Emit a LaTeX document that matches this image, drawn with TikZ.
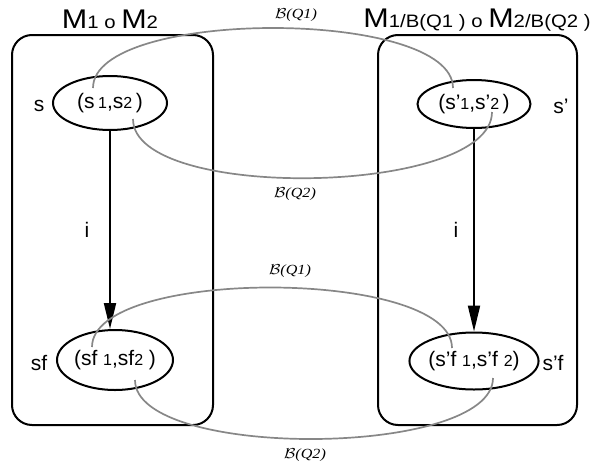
\documentclass[tikz,border=0pt]{standalone}
\usepackage{fontspec}
\setmainfont{Liberation Sans}
\newfontfamily\widefont[FakeStretch=1.13]{Liberation Sans}
\newfontfamily\seriffont{Liberation Serif}
\usetikzlibrary{shapes.geometric,arrows.meta}
\definecolor{curvegray}{RGB}{135,135,135}
\newcommand{\dg}[1]{{\fontsize{16}{16}\selectfont #1}}
\newcommand{\tsb}[1]{{\fontsize{18}{18}\selectfont #1}}
\newcommand{\bq}[1]{\scalebox{1.15}[1]{$\mathcal{B}${\seriffont\itshape (Q#1)}}}
\begin{document}
\begin{tikzpicture}[x=1pt,y=-1pt,
  box/.style={draw, line width=2pt, rounded corners=20pt, inner sep=0pt},
  state/.style={draw, ellipse, line width=2pt, inner sep=0pt, font=\fontsize{21}{21}\selectfont},
  lbl/.style={font=\fontsize{21}{21}\selectfont, inner sep=0pt},
  ttl/.style={font=\widefont\fontsize{27}{27}\selectfont, inner sep=0pt, anchor=base},
  bis/.style={draw=curvegray, line width=1.7pt},
  blbl/.style={font=\fontsize{14}{14}\selectfont, inner sep=0pt},
  trans/.style={-{Triangle[length=26pt,width=12pt]}, line width=2pt}]
\useasboundingbox (0,0) rectangle (594,466);
% boxes
\node[box, minimum width=201pt, minimum height=390pt] (L) at (112.5,230) {};
\node[box, minimum width=199pt, minimum height=390pt] (R) at (477.5,230) {};
% titles
\node[ttl] (tl) at (110,28) {M\tsb{1 o }M\tsb{2}};
\node[ttl] (tr) at (477,27) {M\tsb{1/B(Q1 ) o }M\tsb{2/B(Q2 )}};
% states
\node[state, minimum width=114pt, minimum height=54pt] (s) at (110,103) {(s\,\dg{1},s\dg{2}\,)};
\node[state, minimum width=113pt, minimum height=48pt] (sp) at (474,104) {(s'\dg{1},s'\dg{2}\,)};
\node[state, minimum width=116pt, minimum height=60pt] (sf) at (115,360) {(sf \dg{1},sf\dg{2} )};
\node[state, minimum width=112pt, minimum height=57pt] (spf) at (474,361) {(s'f \dg{1},s'f \dg{2})};
% state labels
\node[lbl] (ls) at (39,106) {s};
\node[lbl] (lsp) at (561,106) {s'};
\node[lbl] (lsf) at (39,363) {sf};
\node[lbl] (lspf) at (553,363) {s'f};
% transitions
\draw[trans] (s.south) -- (s.south |- sf.north) node[lbl, midway, xshift=-23pt] (i1) {i};
\draw[trans] (sp.south) -- (spf.north) node[lbl, midway, xshift=-18pt] (i2) {i};
% bisimulation curves
\coordinate (a1) at (93,88);   \coordinate (b1) at (453,88);
\coordinate (a2) at (133,119); \coordinate (b2) at (492,112);
\coordinate (a3) at (92,347);  \coordinate (b3) at (452,348);
\coordinate (a4) at (135,380); \coordinate (b4) at (493,378);
\draw[bis] (a1) .. controls (93,8) and (453,8) .. (b1);
\draw[bis] (a2) .. controls (133,202) and (492,196) .. (b2);
\draw[bis] (a3) .. controls (92,267) and (452,268) .. (b3);
\draw[bis] (a4) .. controls (135,460) and (493,458) .. (b4);
\node[blbl] (q1) at (296,15) {\bq{1}};
\node[blbl] (q2) at (295,194) {\bq{2}};
\node[blbl] (q3) at (290,271) {\bq{1}};
\node[blbl] (q4) at (305,455) {\bq{2}};
\end{tikzpicture}
\end{document}
